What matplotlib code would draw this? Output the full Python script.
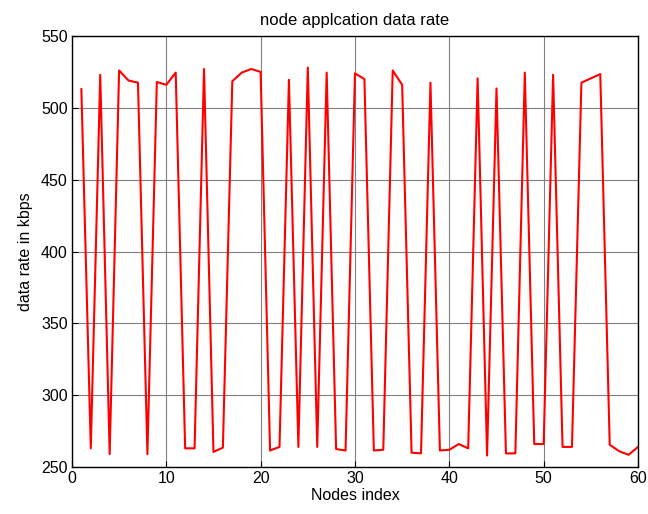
import numpy as np
import matplotlib
matplotlib.use('Agg')
import matplotlib.pyplot as plt

plt.rcParams['font.family'] = ['Liberation Sans', 'DejaVu Sans']

# node index and data rate
nodes = list(range(1, 61))
rate = [513, 263, 523, 259, 526, 519, 517.5, 259, 518, 516,
        524.5, 263, 263, 527, 260.5, 263.5, 518.5, 524.5, 527, 525,
        261.5, 264, 519.5, 264, 528, 264, 524.5, 262.5, 261.5, 524,
        520, 261.5, 262, 526, 516, 260, 259.5, 517.5, 261.5, 262,
        266, 263, 520.5, 258, 513.5, 259.5, 259.5, 524.5, 266, 266,
        523, 264, 264, 517.5, 520.5, 523.5, 265.5, 261, 258.5, 264]

fig = plt.figure(figsize=(6.48, 5.14), dpi=100)
ax = fig.add_axes([0.111, 0.0914, 0.8736, 0.8386])
ax.plot(nodes, rate, color='red', linewidth=1.5)
ax.set_xlim(0, 60)
ax.set_ylim(250, 550)
ax.set_xticks(np.arange(0, 61, 10))
ax.set_yticks(np.arange(250, 551, 50))
ax.grid(True, color='#808080', linewidth=0.8, linestyle='-')
ax.tick_params(direction='in', labelsize=11.5, length=4, pad=3)
for s in ax.spines.values():
    s.set_linewidth(1.0)
ax.set_title('node applcation data rate', fontsize=12, pad=8)
ax.set_xlabel('Nodes index', fontsize=11.5, labelpad=1)
ax.set_ylabel('data rate in kbps', fontsize=11.5, labelpad=6)
fig.savefig('out.png', dpi=100)
